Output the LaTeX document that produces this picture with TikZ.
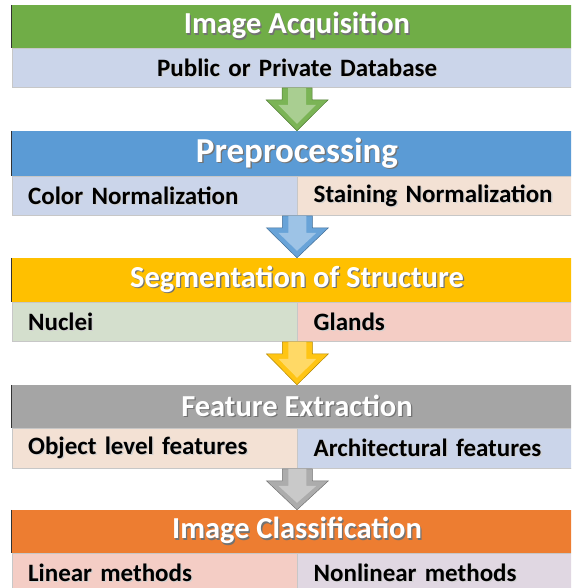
\documentclass[tikz,border=0pt]{standalone}
\usepackage{fontspec}
\setmainfont{Carlito}
\usepackage{tikz}
\usetikzlibrary{positioning,calc}
\usepackage{xcolor}
\definecolor{accgreen}{HTML}{70AD47}
\definecolor{accblue}{HTML}{5B9BD5}
\definecolor{accgold}{HTML}{FFC000}
\definecolor{accgrey}{HTML}{A5A5A5}
\definecolor{accorange}{HTML}{ED7D31}
\definecolor{subblue}{HTML}{CBD5EA}
\definecolor{subpeach}{HTML}{F3E1D4}
\definecolor{subgreen}{HTML}{D4DFCD}
\definecolor{subpink}{HTML}{F4CDC5}
\definecolor{sublilac}{HTML}{E0D7E2}
\newcommand{\shadowed}[2][black!55]{%
    \makebox[0pt][l]{\kern1.3pt\raisebox{-1.3pt}{\textcolor{#1}{#2}}}#2}
\newcommand{\flowarrow}[3]{
    % block arrow from the split point of a row down to the next header
    \filldraw[fill=#3!92!white,draw=#3!70!black,line width=0.5pt]
        ($(#1)+(-15,0)$) -- ($(#1)+(15,0)$) -- ($(#1)+(15,-12)$)
        -- ($(#1)+(31,-12)$) -- (#2.north) -- ($(#1)+(-31,-12)$)
        -- ($(#1)+(-15,-12)$) -- cycle;
    % lighter inner face
    \fill[#3!60!white]
        ($(#1)+(-9,0)$) -- ($(#1)+(9,0)$) -- ($(#1)+(9,-17)$)
        -- ($(#1)+(19,-17)$) -- ($(#2.north)+(0,7)$) -- ($(#1)+(-19,-17)$)
        -- ($(#1)+(-9,-17)$) -- cycle;
}
\begin{document}
\begin{tikzpicture}[x=1pt,y=1pt,
    head/.style={rectangle,minimum width=570pt,inner sep=0pt,
        text=white,font=\fontsize{30.5}{32}\selectfont\bfseries},
    half/.style={rectangle,minimum width=285pt,minimum height=39pt,
        inner xsep=16pt,inner ysep=0pt,text width=253pt,align=left,
        draw=black!22,line width=0.6pt,
        font=\fontsize{25}{27}\selectfont\bfseries},
    full/.style={half,minimum width=570pt,text width=538pt,align=center}
    ]
    \useasboundingbox (0,0) rectangle (571,-588);
    \clip (0,0) rectangle (571,-588);
    % stage headers
    \foreach \n/\y/\h/\c/\t in {
            1/-26.5/43/accgreen/Image Acquisition,
            2/-153.5/45/accblue/{\fontsize{35}{37}\selectfont Preprocessing},
            3/-280/44/accgold/Segmentation of Structure,
            4/-406.5/43/accgrey/Feature Extraction,
            5/-531.5/43/accorange/Image Classification}
        \node[head,minimum height=\h pt,fill=\c] (h\n) at (297,\y) {\shadowed{\t}};
    % dark left edges of the headers
    \foreach \n in {1,...,5}
        \draw[black!80,line width=1pt] (h\n.north west) -- (h\n.south west);
    % sub rows
    \node[full,fill=subblue,anchor=north west] (db) at (h1.south west)
        {\shadowed[black!18]{Public or Private Database}};
    \node[half,fill=subblue,anchor=north west] (color) at (h2.south west)
        {\shadowed[black!18]{Color Normalization}};
    \node[half,fill=subpeach,right=0pt of color] (stain)
        {\shadowed[black!18]{Staining Normalization}};
    \node[half,fill=subgreen,anchor=north west] (nuclei) at (h3.south west)
        {\shadowed[black!18]{Nuclei}};
    \node[half,fill=subpink,right=0pt of nuclei] (glands)
        {\shadowed[black!18]{Glands}};
    \node[half,minimum height=40pt,fill=subpeach,anchor=north west] (object) at (h4.south west)
        {\shadowed[black!18]{Object level features}};
    \node[half,minimum height=40pt,fill=subblue,right=0pt of object] (arch)
        {\shadowed[black!18]{Architectural features}};
    \node[half,minimum height=40pt,fill=subpink,anchor=north west] (linear) at (h5.south west)
        {\shadowed[black!18]{Linear methods}};
    \node[half,minimum height=40pt,fill=sublilac,right=0pt of linear] (nonlinear)
        {\shadowed[black!18]{Nonlinear methods}};
    % arrows between stages
    \flowarrow{db.south}{h2}{accgreen}
    \flowarrow{color.south east}{h3}{accblue}
    \flowarrow{nuclei.south east}{h4}{accgold}
    \flowarrow{object.south east}{h5}{accgrey}
\end{tikzpicture}
\end{document}
